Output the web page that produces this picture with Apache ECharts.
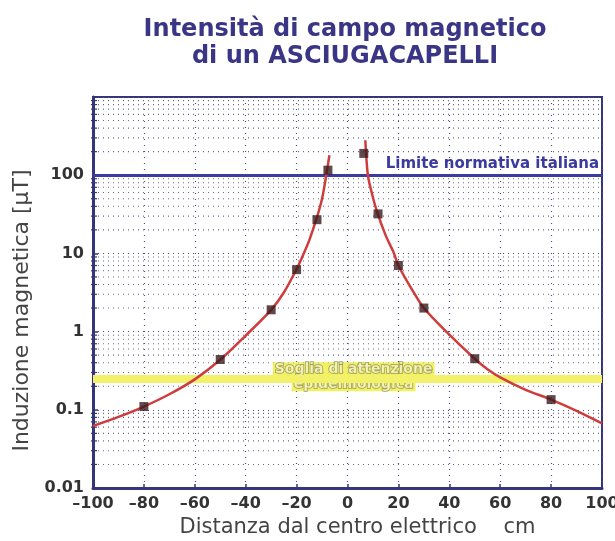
<!DOCTYPE html>
<html>
<head>
<meta charset="utf-8">
<script src="https://cdn.jsdelivr.net/npm/echarts@6/dist/echarts.min.js"></script>
<style>html,body{margin:0;padding:0;background:#fff}#c{width:615px;height:541px}</style>
</head>
<body>
<div id="c"></div>
<script>
// ---- data ----
var titleLines = ['Intensità di campo magnetico', 'di un ASCIUGACAPELLI'];
var xTicks = [-100, -80, -60, -40, -20, 0, 20, 40, 60, 80, 100];
var yTickLabels = ['0.01', '0.1', '1', '10', '100'];
// fitted curve, left branch (x cm, µT)
var curveLeft = [[-100,0.062],[-90,0.081],[-80,0.11],[-70,0.158],[-60,0.245],[-50,0.436],[-40,0.89],[-30,1.9],[-25,3.16],[-20,6.3],[-18,8.7],[-15,14.8],[-12,29],[-10,50],[-8.6,89],[-7.1,180]];
// fitted curve, right branch
var curveRight = [[7,280],[8,100],[9.5,60],[11.5,35],[15,17],[18,10.5],[20,7],[25,3.6],[30,2.0],[38.8,1.0],[50,0.45],[55,0.33],[60,0.26],[70,0.18],[80,0.135],[90,0.097],[100,0.067]];
// measured points
var measured = [[-80,0.11],[-50,0.44],[-30,1.9],[-20,6.2],[-12,27],[-7.7,116],[6.4,190],[12,32],[20,7],[30,2.0],[50,0.45],[80,0.135]];
var limitValue = 100;       // Limite normativa italiana
var thresholdValue = 0.25;  // Soglia di attenzione epidemiologica
var decades = [0.01, 0.1, 1, 10, 100];
var minorMult = [2, 3, 4, 5, 6, 7, 8, 9];

var minorValues = [];
decades.forEach(function (d) { minorMult.forEach(function (m) { minorValues.push([m * d]); }); });

var chart = echarts.init(document.getElementById('c'));
var gridColor = '#4d4d80';
var axisColor = '#35357a';
var font = 'DejaVu Sans';

chart.setOption({
  backgroundColor: '#ffffff',
  animation: false,
  title: {
    text: titleLines.join('\n'),
    left: 340, top: 11, textAlign: 'center',
    textStyle: { fontFamily: font, fontWeight: 'bold', fontSize: 24, color: '#3b3585', lineHeight: 27 }
  },
  grid: { left: 93, right: 13, top: 97, bottom: 53, show: true, borderColor: axisColor, borderWidth: 2,
    outerBoundsMode: 'none', containLabel: false },
  xAxis: {
    type: 'value', min: -100, max: 100, interval: 20,
    name: 'Distanza dal centro elettrico    cm', nameLocation: 'middle', nameGap: 24,
    nameTextStyle: { fontFamily: font, fontSize: 21, color: '#444', padding: [0, 0, 0, 20] },
    axisLine: { onZero: false, lineStyle: { color: axisColor, width: 3 } },
    axisTick: { inside: true, length: 4, lineStyle: { color: axisColor, width: 1.5 } },
    axisLabel: { margin: 8, fontFamily: font, fontWeight: 'bold', fontSize: 16, color: '#333',
      formatter: function (v) { return v < 0 ? '\u2013' + Math.abs(v) : String(v); } },
    splitLine: { show: true, lineStyle: { color: gridColor, type: [1, 5], width: 1.2 } }
  },
  yAxis: {
    type: 'log', logBase: 10, min: 0.01, max: 1000,
    name: 'Induzione magnetica [\u00b5T]', nameLocation: 'middle', nameGap: 55, nameRotate: 90,
    nameTextStyle: { fontFamily: font, fontSize: 22, color: '#444', padding: [0, 36, 0, 0] },
    axisLine: { onZero: false, lineStyle: { color: axisColor, width: 3 } },
    axisTick: { inside: true, length: 5, lineStyle: { color: axisColor, width: 1.5 } },
    axisLabel: { margin: 9, fontFamily: font, fontWeight: 'bold', fontSize: 16, color: '#333',
      formatter: function (v) {
        var i = decades.indexOf(+v.toPrecision(3));
        return i >= 0 ? yTickLabels[i] : '';
      } },
    splitLine: { show: true, lineStyle: { color: gridColor, type: [1, 4], width: 1.2 } }
  },
  series: [
    {
      type: 'custom', silent: true, z: 1,
      data: minorValues,
      renderItem: function (params, api) {
        var v = api.value(0);
        var a = api.coord([-100, v]);
        var b = api.coord([100, v]);
        return { type: 'group', children: [
          { type: 'line', shape: { x1: a[0], y1: a[1], x2: b[0], y2: b[1] },
            style: { stroke: gridColor, lineWidth: 1.1, lineDash: [1, 4], opacity: 0.85 } },
          { type: 'line', shape: { x1: a[0] - 2, y1: a[1], x2: a[0] + 4, y2: a[1] },
            style: { stroke: axisColor, lineWidth: 1.2 } }
        ] };
      }
    },
    {
      type: 'line', data: [], z: 3,
      markLine: {
        silent: true, symbol: 'none',
        data: [
          { yAxis: thresholdValue,
            lineStyle: { color: '#f3f16a', width: 8, type: 'solid' },
            label: { show: false } },
          { yAxis: limitValue,
            lineStyle: { color: '#3c3ca0', width: 3, type: 'solid' },
            label: { show: true, position: 'insideEndTop', distance: [3, 4], formatter: 'Limite normativa italiana',
              fontFamily: font, fontWeight: 'bold', fontSize: 15, color: '#3a3aa0' } }
        ]
      }
    },
    {
      type: 'scatter', z: 4, symbolSize: 0, silent: true,
      data: [[2.4, thresholdValue]],
      label: { show: true, position: 'inside', offset: [0, -2], lineHeight: 15,
        formatter: '{a|Soglia di attenzione}\n{a|epidemiologica}',
        rich: { a: { fontFamily: font, fontWeight: 'bold', fontSize: 14, color: '#fbfbd0',
          textBorderColor: '#8a8a4a', textBorderWidth: 1.5, backgroundColor: '#efec3c', padding: [0, 2], lineHeight: 15 } } }
    },
    {
      type: 'line', data: curveLeft, smooth: 0.3, showSymbol: false, z: 5,
      lineStyle: { color: '#cf3c3c', width: 2.5 }
    },
    {
      type: 'line', data: curveRight, smooth: 0.3, showSymbol: false, z: 5,
      lineStyle: { color: '#cf3c3c', width: 2.5 }
    },
    {
      type: 'scatter', data: measured, symbol: 'rect', symbolSize: 9, z: 6,
      itemStyle: { color: '#3a1a1e' }
    }
  ]
});
</script>
</body>
</html>
